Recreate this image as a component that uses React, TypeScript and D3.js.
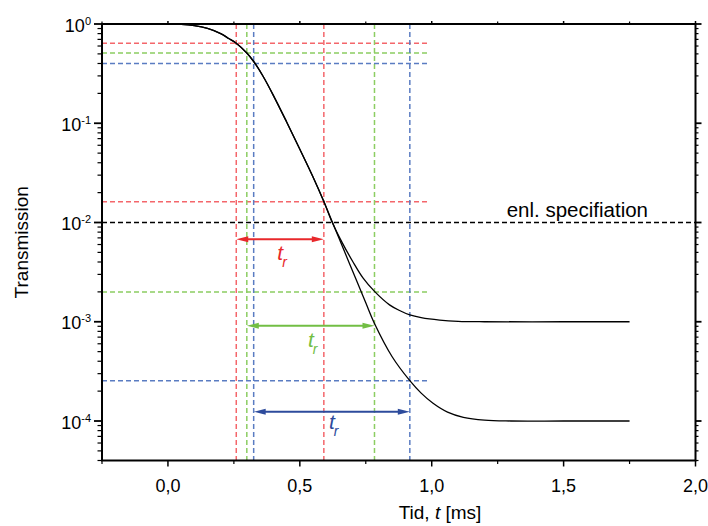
import React from 'react';
import * as d3 from 'd3';

// axis ticks
const xMajor = [0, 0.5, 1.0, 1.5, 2.0];
const xMajorLabels = ['0,0', '0,5', '1,0', '1,5', '2,0'];
const xMinor = [-0.25, 0.25, 0.75, 1.25, 1.75];
const yDecades = [0, -1, -2, -3, -4];

// curves (time in ms, transmission)
const sharedT = [0, 0.05, 0.1, 0.15, 0.2, 0.23, 0.259, 0.299, 0.325, 0.36, 0.4, 0.45, 0.5, 0.55, 0.591];
const sharedV = [1.0, 0.993, 0.964, 0.902, 0.8, 0.715, 0.64, 0.51, 0.419, 0.299, 0.19, 0.103, 0.0548, 0.0288, 0.0163];
const highT = [0.623, 0.66, 0.7, 0.74, 0.784, 0.84, 0.88, 0.917, 0.96, 1.03, 1.1, 1.2, 1.5, 1.75];
const highV = [0.01, 0.00631, 0.00407, 0.00275, 0.00201, 0.00148, 0.00129, 0.00117, 0.0011, 0.00104, 0.00101, 0.001, 0.001, 0.001];
const lowT = [0.62, 0.66, 0.715, 0.75, 0.783, 0.85, 0.917, 0.96, 1.005, 1.06, 1.12, 1.2, 1.3, 1.5, 1.75];
const lowV = [0.01057, 0.00586, 0.0026, 0.00155, 0.00096, 0.000444, 0.000255, 0.000191, 0.000151, 0.000123, 0.000109, 0.000102, 0.0001, 0.0001, 0.0001];

// rise-time markers: [start, end] levels and times, arrow level
const markerNames = ['red', 'green', 'blue'];
const markerLevels = [[0.64, 0.0162], [0.51, 0.002], [0.4, 0.000255]];
const markerTimes = [[0.259, 0.591], [0.299, 0.783], [0.325, 0.917]];
const arrowLevels = [0.0068, 0.00091, 0.000124];
const levelEndT = 0.985;
const specLevel = 0.01;

const dashColors = ['#f4666b', '#8ccd62', '#5a7cc2'];
const arrowColors = ['#e8282b', '#72be44', '#2d4b9c'];

const W = 708;
const H = 526;
const font = 'Liberation Sans, Arial, sans-serif';

export default function App() {
  const x = d3.scaleLinear().domain([-0.25, 2.0]).range([102, 695.5]);
  const y = d3.scaleLog().domain([4e-5, 1]).range([460.5, 24]);
  const [x0, x1] = x.range();
  const [y0, y1] = y.range();

  const yMinor: number[] = [];
  for (let d = -5; d <= 0; d++) {
    for (let k = 2; k <= 9; k++) {
      const v = k * Math.pow(10, d);
      if (v >= 4e-5 && v < 1) yMinor.push(v);
    }
  }

  const line = d3.line<[number, number]>()
    .x(d => x(d[0]))
    .y(d => y(d[1]))
    .curve(d3.curveCatmullRom.alpha(0.5));

  const shared = sharedT.map((t, i) => [t, sharedV[i]] as [number, number]);
  const high = shared.concat(highT.map((t, i) => [t, highV[i]] as [number, number]));
  const low = shared.concat(lowT.map((t, i) => [t, lowV[i]] as [number, number]));

  const headL = 12;
  const headW = 3;

  return (
    <svg width={W} height={H} style={{ position: 'absolute', left: 0, top: 0, background: '#fff' }}
      fontFamily={font}>
      {/* colored level lines */}
      {markerNames.map((n, i) => (
        <g key={n} stroke={dashColors[i]} strokeWidth={1.5} strokeDasharray="5,3" fill="none">
          {markerLevels[i].map((lv, j) => (
            <line key={'h' + j} x1={x0} x2={x(levelEndT)} y1={y(lv)} y2={y(lv)} />
          ))}
          {markerTimes[i].map((t, j) => (
            <line key={'v' + j} x1={x(t)} x2={x(t)} y1={y1} y2={y0} />
          ))}
        </g>
      ))}

      {/* specification line */}
      <line x1={x0} x2={x1} y1={y(specLevel)} y2={y(specLevel)} stroke="#000" strokeWidth={1.4}
        strokeDasharray="5,3" />
      <text x={648} y={y(specLevel) - 6} textAnchor="end" fontSize={20.5} fill="#000">enl. specifiation</text>

      {/* curves */}
      <path d={line(high) || ''} fill="none" stroke="#000" strokeWidth={1.3} />
      <path d={line(low) || ''} fill="none" stroke="#000" strokeWidth={1.3} />

      {/* arrows */}
      {markerNames.map((n, i) => {
        const xa = x(markerTimes[i][0]);
        const xb = x(markerTimes[i][1]);
        const ya = y(arrowLevels[i]);
        const c = arrowColors[i];
        const mid = (xa + xb) / 2 + 2;
        const dy = i === 2 ? 17 : 21;
        return (
          <g key={'a' + n}>
            <line x1={xa + headL - 1} x2={xb - headL + 1} y1={ya} y2={ya} stroke={c} strokeWidth={2} />
            <polygon points={`${xa},${ya} ${xa + headL},${ya - headW} ${xa + headL},${ya + headW}`} fill={c} />
            <polygon points={`${xb},${ya} ${xb - headL},${ya - headW} ${xb - headL},${ya + headW}`} fill={c} />
            <text x={mid} y={ya + dy} textAnchor="middle" fill={c} fontStyle="italic" fontSize={21}>
              t<tspan fontSize={14} dy={7} dx={-1}>r</tspan>
            </text>
          </g>
        );
      })}

      {/* frame */}
      <rect x={x0} y={y1} width={x1 - x0} height={y0 - y1} fill="none" stroke="#000" strokeWidth={2} />

      {/* x ticks bottom & top */}
      {xMajor.map((t, i) => (
        <g key={'xm' + t}>
          <line x1={x(t)} x2={x(t)} y1={y0} y2={y0 + 6} stroke="#000" strokeWidth={1.5} />
          <line x1={x(t)} x2={x(t)} y1={y1} y2={y1 - 3} stroke="#000" strokeWidth={1.5} />
          <text x={x(t)} y={491.5} textAnchor="middle" fontSize={18} fill="#000">{xMajorLabels[i]}</text>
        </g>
      ))}
      {xMinor.map(t => (
        <g key={'xn' + t}>
          <line x1={x(t)} x2={x(t)} y1={y0} y2={y0 + 3.5} stroke="#000" strokeWidth={1.2} />
          <line x1={x(t)} x2={x(t)} y1={y1} y2={y1 - 2.5} stroke="#000" strokeWidth={1.2} />
        </g>
      ))}

      {/* y ticks left & right */}
      {yDecades.map(d => {
        const yy = y(Math.pow(10, d));
        return (
          <g key={'yd' + d}>
            <line x1={x0 - 8} x2={x0} y1={yy} y2={yy} stroke="#000" strokeWidth={1.8} />
            <line x1={x1} x2={x1 + 6} y1={yy} y2={yy} stroke="#000" strokeWidth={1.8} />
            <text x={91} y={yy + 7.5} textAnchor="end" fontSize={18} fill="#000">
              10<tspan fontSize={11} dy={-7}>{String(d)}</tspan>
            </text>
          </g>
        );
      })}
      {yMinor.map(v => (
        <g key={'yn' + v}>
          <line x1={x0 - 4.5} x2={x0} y1={y(v)} y2={y(v)} stroke="#000" strokeWidth={1.2} />
          <line x1={x1} x2={x1 + 3} y1={y(v)} y2={y(v)} stroke="#000" strokeWidth={1.2} />
        </g>
      ))}

      {/* axis titles */}
      <text x={440} y={519} textAnchor="middle" fontSize={19} fill="#000">
        Tid, <tspan fontStyle="italic">t</tspan> [ms]
      </text>
      <text transform={`translate(28, ${(y0 + y1) / 2}) rotate(-90)`} textAnchor="middle" fontSize={19} fill="#000">
        Transmission
      </text>
    </svg>
  );
}
